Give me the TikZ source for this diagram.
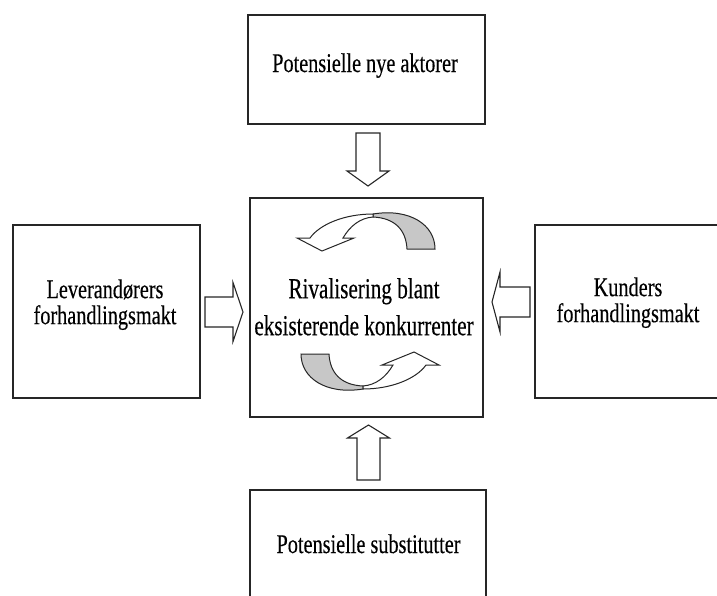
\documentclass[tikz,border=0pt]{standalone}
\usepackage{fontspec}
\setmainfont{Liberation Serif}
\newfontfamily\narrowserif[FakeStretch=0.75, FakeBold=0.3]{Liberation Serif}
\newfontfamily\centerserif[FakeStretch=0.73, FakeBold=0.3]{Liberation Serif}

\tikzset{
  factorbox/.style={draw=black!85, line width=1.1pt, fill=white, inner sep=0pt},
  factortext/.style={inner sep=0pt, align=center,
    font=\narrowserif\fontsize{27}{26}\selectfont},
  centertext/.style={inner sep=0pt, align=center,
    font=\centerserif\fontsize{29}{37}\selectfont},
  blockarrow/.style={draw=black!85, line width=1.1pt, fill=white, line join=miter},
  ribbonback/.style={draw=black!85, line width=1pt, fill=black!22},
  ribbonfront/.style={draw=black!85, line width=1pt, fill=white},
}

% hollow block arrow: #1 start, #2 direction, #3 length,
% #4 shaft half width, #5 head half width, #6 head length
\newcommand\hollowarrow[6]{%
  \path[blockarrow, shift={(#1)}, rotate=#2]
    (0,-#4) -- ({#3-#6},-#4) -- ({#3-#6},-#5) -- (#3,0)
    -- ({#3-#6},#5) -- ({#3-#6},#4) -- (0,#4) -- cycle;}

% one half of the circling rivalry ribbon (shaded back, white front with head)
\newcommand\rivalryribbon{%
  \path[ribbonback] (373,214) .. controls (410,208) and (435,225) .. (435,249)
    -- (407,249) .. controls (406,230) and (395,218) .. (373,217) -- cycle;
  \path[ribbonfront] (373,214) .. controls (345,214) and (320,224) .. (310,238)
    -- (297,238) -- (322,251) -- (354,238) -- (343,238)
    .. controls (350,226) and (360,218) .. (373,217) -- cycle;}

\begin{document}
\begin{tikzpicture}[x=1pt, y=-1pt]
  \useasboundingbox (0,0) rectangle (717,595);
  \clip (0,0) rectangle (717,595);

  % the five forces
  \node[factorbox, minimum width=237pt, minimum height=109pt] (entrants) at (366.5,69.5) {};
  \node[factorbox, minimum width=233pt, minimum height=219pt] (rivalry)  at (366.5,307.5) {};
  \node[factorbox, minimum width=187pt, minimum height=173pt] (suppliers) at (106.5,311.5) {};
  \node[factorbox, minimum width=187pt, minimum height=173pt] (buyers)   at (628.5,311.5) {};
  \node[factorbox, minimum width=236pt, minimum height=109pt] (substitutes) at (368,544.5) {};

  \node[factortext, anchor=base] (entrants-text) at (365,72) {Potensielle nye aktorer};
  \node[factortext] (suppliers-text) at (105,304.7) {Leverandørers\\forhandlingsmakt};
  \node[factortext] (buyers-text) at (628,302.7) {Kunders\\forhandlingsmakt};
  \node[factortext, anchor=base] (substitutes-text) at (368.5,553) {Potensielle substitutter};
  \node[centertext] (rivalry-text) at (364,306.8) {Rivalisering blant\\eksisterende konkurrenter};

  % pressure arrows towards the rivalry box
  \hollowarrow{368,133}{-90}{53}{12}{21}{15}
  \hollowarrow{368.5,480}{90}{55}{11.5}{21}{13}
  \hollowarrow{205,312}{0}{38}{15}{29.5}{10}
  \hollowarrow{530,302}{180}{38}{15}{30}{8}

  % circling ribbon inside the rivalry box
  \rivalryribbon
  \begin{scope}[rotate around={180:(368,301.5)}]
    \rivalryribbon
  \end{scope}
\end{tikzpicture}
\end{document}
